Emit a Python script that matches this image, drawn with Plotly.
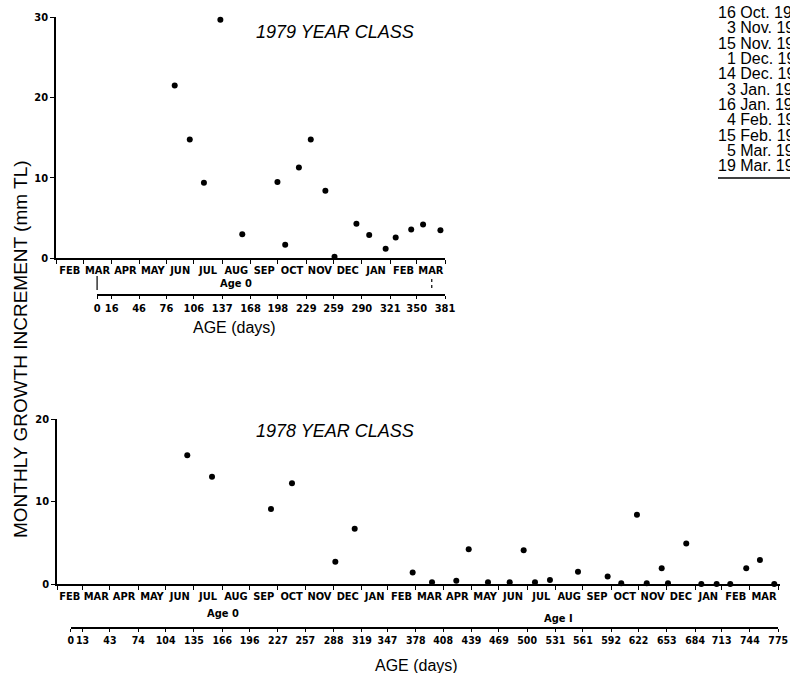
import plotly.graph_objects as go

# ---------------- data ----------------
# 1979 year class (top panel): age in days, monthly growth increment (mm TL)
top_age_days = [85, 101.5, 117, 135, 159, 197.5, 206, 221, 234, 250, 260, 284, 298, 316, 327, 344, 357, 376]
top_increment = [21.5, 14.8, 9.4, 29.7, 3.0, 9.5, 1.7, 11.3, 14.8, 8.4, 0.2, 4.3, 2.9, 1.2, 2.6, 3.6, 4.2, 3.5]

top_months = ["FEB", "MAR", "APR", "MAY", "JUN", "JUL", "AUG", "SEP", "OCT", "NOV", "DEC", "JAN", "FEB", "MAR"]
top_age_ticks = [0, 16, 46, 76, 106, 137, 168, 198, 229, 259, 290, 321, 350, 381]
top_month_bounds = [-45, -15] + top_age_ticks[1:]
top_age_bracket = [0, 366.5]

# 1978 year class (bottom panel)
bot_age_days = [127.7, 154.8, 219.4, 242.4, 289.9, 311.1, 374.6, 395.8, 422.4, 436, 457.1, 480.9, 496.2,
                508.6, 525, 555.7, 588.2, 603.1, 620.3, 631, 647.4, 654.3, 674.3, 690.8, 707.6, 722.5,
                740, 755, 770.7]
bot_increment = [15.6, 13.0, 9.1, 12.2, 2.7, 6.7, 1.4, 0.2, 0.4, 4.2, 0.2, 0.2, 4.1,
                 0.2, 0.5, 1.5, 0.9, 0.1, 8.4, 0.1, 1.9, 0.1, 4.9, 0.0, 0.0, 0.0,
                 1.9, 2.9, 0.0]

bot_months = ["FEB", "MAR", "APR", "MAY", "JUN", "JUL", "AUG", "SEP", "OCT", "NOV", "DEC", "JAN", "FEB",
              "MAR", "APR", "MAY", "JUN", "JUL", "AUG", "SEP", "OCT", "NOV", "DEC", "JAN", "FEB", "MAR"]
bot_age_ticks = [0, 13, 43, 74, 104, 135, 166, 196, 227, 257, 288, 319, 347, 378, 408, 439, 469, 500,
                 531, 561, 592, 622, 653, 684, 713, 744, 775]
bot_month_bounds = [-15] + bot_age_ticks[1:]

top_y_ticks = [0, 10, 20, 30]
bot_y_ticks = [0, 10, 20]

table_days = ["16", "3", "15", "1", "14", "3", "16", "4", "15", "5", "19"]
table_rest = ["Oct. 1979", "Nov. 1979", "Nov. 1979", "Dec. 1979", "Dec. 1979", "Jan. 1980",
              "Jan. 1980", "Feb. 1980", "Feb. 1980", "Mar. 1980", "Mar. 1980"]

# ---------------- helpers ----------------
W, H = 790, 673


def px(x):
    return x / W


def py(y):
    return 1 - y / H


def centers(b):
    return [(b[i] + b[i + 1]) / 2 for i in range(len(b) - 1)]


NARROW = "Liberation Sans Narrow, DejaVu Sans Condensed, Liberation Sans, Arial, sans-serif"
SANS = "Liberation Sans, Arial, Helvetica, sans-serif"
tickfont = dict(family=NARROW, size=11, color="black", weight="bold")

fig = go.Figure()
marker = dict(color="black", size=6)
fig.add_trace(go.Scatter(x=top_age_days, y=top_increment, mode="markers", marker=marker,
                         xaxis="x", yaxis="y", cliponaxis=False, hoverinfo="skip"))
fig.add_trace(go.Scatter(x=bot_age_days, y=bot_increment, mode="markers", marker=marker,
                         xaxis="x2", yaxis="y2", cliponaxis=False, hoverinfo="skip"))
# traces registering the age axes
fig.add_trace(go.Scatter(x=[top_age_ticks[0], top_age_ticks[-1]], y=[None, None], mode="markers",
                         xaxis="x3", yaxis="y", hoverinfo="skip"))
fig.add_trace(go.Scatter(x=[bot_age_ticks[0], bot_age_ticks[-1]], y=[None, None], mode="markers",
                         xaxis="x4", yaxis="y2", hoverinfo="skip"))

common_line = dict(showline=True, linecolor="black", linewidth=1.5, showgrid=False, zeroline=False)


def month_axis(dom, rng, anchor, cen, txt, bnd):
    return dict(domain=dom, range=rng, anchor=anchor, tickmode="array", tickvals=cen, ticktext=txt,
                ticks="", tickfont=tickfont, ticklabelstandoff=1, tickangle=0,
                minor=dict(tickmode="array", tickvals=bnd, ticks="outside", ticklen=4, tickwidth=1,
                           tickcolor="black", showgrid=False),
                **common_line)


def age_axis(dom, rng, pos, vals, size):
    return dict(domain=dom, range=rng, anchor="free", position=pos, side="bottom", tickmode="array",
                tickvals=vals, ticktext=[str(v) for v in vals], ticks="outside", ticklen=3, tickwidth=1,
                tickcolor="black", tickangle=0,
                tickfont=dict(family=NARROW, size=size, color="black", weight="bold"),
                **common_line)


fig.update_layout(
    width=W, height=H, margin=dict(l=0, r=0, t=0, b=0, autoexpand=False),
    paper_bgcolor="white", plot_bgcolor="rgba(0,0,0,0)", showlegend=False,
    xaxis=month_axis([px(56), px(445)], [-45, 381], "y", centers(top_month_bounds), top_months, top_month_bounds),
    yaxis=dict(domain=[py(258.3), py(17.3)], range=[0, 30], anchor="x", tickmode="array",
               tickvals=top_y_ticks, ticks="outside", ticklen=4, tickwidth=1, tickcolor="black",
               tickfont=tickfont, **common_line),
    xaxis2=month_axis([px(57), px(780)], [-15, 777], "y2", centers(bot_month_bounds), bot_months, bot_month_bounds),
    yaxis2=dict(domain=[py(584), py(419)], range=[0, 20], anchor="x2", tickmode="array",
                tickvals=bot_y_ticks, ticks="outside", ticklen=4, tickwidth=1, tickcolor="black",
                tickfont=tickfont, **common_line),
    xaxis3=age_axis([px(97.1), px(445)], [0, 381], py(295), top_age_ticks, 11),
    xaxis4=age_axis([px(70.7), px(778.2)], [0, 775], py(628), bot_age_ticks, 10.5),
)


def note(text, x, y, font, xanchor="center", **kw):
    return dict(text=text, x=px(x), y=py(y), xref="paper", yref="paper", showarrow=False,
                xanchor=xanchor, yanchor="middle", font=font, **kw)


ann = []
titlefont = dict(family=SANS, size=18, color="black", style="italic")
ann.append(note("1979 YEAR CLASS", 335, 32, titlefont))
ann.append(note("1978 YEAR CLASS", 335, 431, titlefont))
ann.append(note("MONTHLY GROWTH INCREMENT (mm TL)", 20, 349, dict(family=SANS, size=19, color="black"),
                textangle=-90))
agetitle = dict(family=SANS, size=16, color="black")
ann.append(note("AGE (days)", 235, 327, agetitle))
ann.append(note("AGE (days)", 416, 665, agetitle))
agefont = dict(family=NARROW, size=11, color="black", weight="bold")
ann.append(note("Age 0", 236, 283, agefont))
ann.append(note("Age 0", 223, 613, agefont))
ann.append(note("Age I", 558, 618, agefont))

FIGSP = "\u2007"  # figure space, same width as a digit
tfont = dict(family=SANS, size=16, color="black")
for i, (d, r) in enumerate(zip(table_days, table_rest)):
    yy = 12.7 + i * 15.3
    ann.append(note(d.rjust(2, FIGSP) + " " + r, 717, yy, tfont, xanchor="left", borderpad=0))
fig.update_layout(annotations=ann)

shapes = [
    dict(type="line", xref="x", yref="paper", x0=top_age_bracket[0], x1=top_age_bracket[0],
         y0=py(276), y1=py(290), line=dict(color="black", width=1.2)),
    dict(type="line", xref="x", yref="paper", x0=top_age_bracket[1], x1=top_age_bracket[1],
         y0=py(279), y1=py(289), line=dict(color="black", width=1.2, dash="dot")),
    dict(type="line", xref="paper", yref="paper", x0=px(718), x1=px(790), y0=py(178), y1=py(178),
         line=dict(color="black", width=1.5)),
]
fig.update_layout(shapes=shapes)

fig.write_html("out.html", config={"displayModeBar": False},
               post_script="document.body.style.margin='0';document.body.style.overflow='hidden';")
